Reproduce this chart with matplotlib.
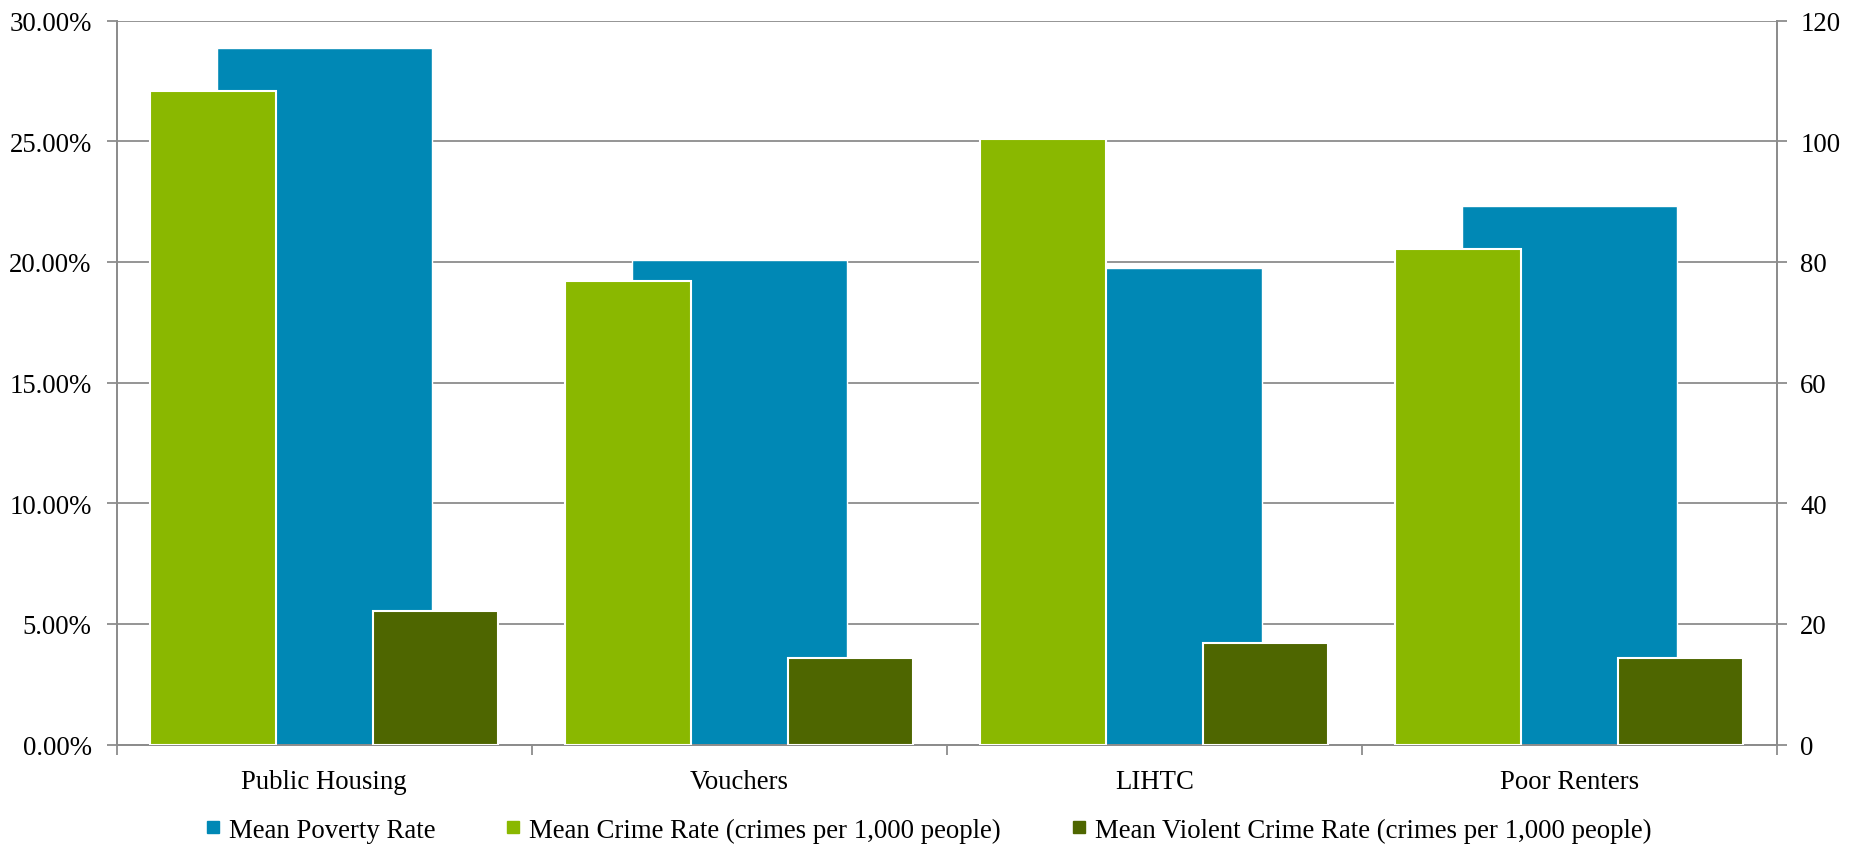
import matplotlib
matplotlib.use("Agg")
import matplotlib.pyplot as plt
from matplotlib.lines import Line2D
import numpy as np

categories = ["Public Housing", "Vouchers", "LIHTC", "Poor Renters"]
poverty_rate = [28.85, 20.08, 19.75, 22.3]          # percent, left axis
crime_rate = [108.4, 76.9, 100.4, 82.2]              # right axis
violent_rate = [22.2, 14.3, 16.8, 14.4]              # right axis
left_ticks = [0, 5, 10, 15, 20, 25, 30]
right_ticks = [0, 20, 40, 60, 80, 100, 120]

BLUE = "#0088B5"
GREEN = "#8AB800"
DARK = "#4E6600"
GRID = "#8C8C8C"

plt.rcParams['font.family'] = ['Liberation Serif', 'DejaVu Serif']
FS = 19.3

fig = plt.figure(figsize=(18.5, 8.45), dpi=100)
ax = fig.add_axes([116.7 / 1850, 99.3 / 845, 1660 / 1850, 724.2 / 845])
ax2 = ax.twinx()

x = np.arange(len(categories))
ax.bar(x, poverty_rate, width=0.518, color=BLUE, edgecolor="white", linewidth=1.0, zorder=2)
ax2.bar(x - 0.268, crime_rate, width=0.303, color=GREEN, edgecolor="white", linewidth=1.5, zorder=3)
ax2.bar(x + 0.268, violent_rate, width=0.303, color=DARK, edgecolor="white", linewidth=1.5, zorder=3)

ax.set_xlim(-0.5, len(categories) - 0.5)
ax.set_ylim(0, 30)
ax2.set_ylim(0, 120)

ax.set_yticks(left_ticks)
ax.set_yticklabels([f"{v:.2f}%" for v in left_ticks])
ax2.set_yticks(right_ticks)
ax2.set_yticklabels([str(v) for v in right_ticks])

ax.set_axisbelow(True)
ax.yaxis.grid(True, color=GRID, linewidth=1.3)
ax.xaxis.grid(False)

ax.set_xticks(x)
ax.set_xticklabels(categories)
ax.set_xticks(np.arange(-0.5, len(categories)), minor=True)
ax.tick_params(axis='x', which='major', length=0, pad=17.5, labelsize=FS)
ax.tick_params(axis='x', which='minor', length=7, width=1.3, color=GRID, direction='out')
ax.tick_params(axis='y', length=7, width=1.3, color=GRID, pad=11, labelsize=FS)
ax2.tick_params(axis='y', length=7, width=1.3, color=GRID, pad=10, labelsize=FS)

for a in (ax, ax2):
    a.spines["top"].set_visible(False)
    for side in ("left", "right", "bottom"):
        a.spines[side].set_color(GRID)
        a.spines[side].set_linewidth(1.3)

handles = [
    Line2D([], [], marker='s', linestyle='none', markersize=8.5, color=BLUE),
    Line2D([], [], marker='s', linestyle='none', markersize=8.5, color=GREEN),
    Line2D([], [], marker='s', linestyle='none', markersize=8.5, color=DARK),
]
labels = ["Mean Poverty Rate",
          "Mean Crime Rate (crimes per 1,000 people)",
          "Mean Violent Crime Rate (crimes per 1,000 people)"]
fig.legend(handles, labels, loc='center', bbox_to_anchor=(928 / 1850, 1 - 831 / 845),
           ncol=3, frameon=False, fontsize=FS, handlelength=0.6, handletextpad=0.3,
           columnspacing=2.6, borderaxespad=0)

fig.savefig("out.png", dpi=100)
